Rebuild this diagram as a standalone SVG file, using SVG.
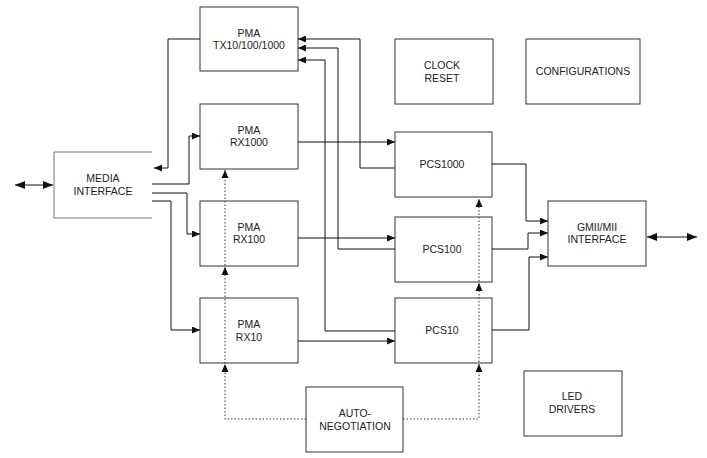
<svg xmlns="http://www.w3.org/2000/svg" width="707" height="458" viewBox="0 0 707 458">
<defs>
<marker id="ah" viewBox="0 0 10 8" refX="10" refY="4" markerWidth="10" markerHeight="8" markerUnits="userSpaceOnUse" orient="auto-start-reverse">
<path d="M0,0 L10,4 L0,8 Z" fill="#111"/>
</marker>
<marker id="ahs" viewBox="0 0 8 7" refX="8" refY="3.5" markerWidth="8" markerHeight="7" markerUnits="userSpaceOnUse" orient="auto">
<path d="M0,0 L8,3.5 L0,7 Z" fill="#111"/>
</marker>
</defs>
<style>
.box{fill:#fff;stroke:#333;stroke-width:1}
.t{font-family:"Liberation Sans",Arial,sans-serif;font-size:10.5px;fill:#222;text-anchor:middle}
.c{fill:none;stroke:#111;stroke-width:1}
.d{fill:none;stroke:#333;stroke-width:1;stroke-dasharray:1.5,2}
</style>
<rect width="707" height="458" fill="#fff"/>
<g id="pma-tx"><rect class="box" x="200" y="7" width="98" height="64"/><text class="t" x="249" y="37">PMA</text><text class="t" x="249" y="49">TX10/100/1000</text></g>
<g id="pma-rx1000"><rect class="box" x="200" y="104" width="98" height="65"/><text class="t" x="249" y="134">PMA</text><text class="t" x="249" y="146">RX1000</text></g>
<g id="pma-rx100"><rect class="box" x="200" y="201" width="98" height="65"/><text class="t" x="249" y="231">PMA</text><text class="t" x="249" y="243">RX100</text></g>
<g id="pma-rx10"><rect class="box" x="200" y="298" width="98" height="65"/><text class="t" x="249" y="328">PMA</text><text class="t" x="249" y="341">RX10</text></g>
<g id="media-interface"><path d="M152,152 L54,152 L54,218 L152,218" fill="#fff" stroke="#777" stroke-width="1"/><text class="t" x="103" y="182">MEDIA</text><text class="t" x="103" y="195">INTERFACE</text></g>
<g id="clock-reset"><rect class="box" x="395" y="39" width="98" height="65"/><text class="t" x="442" y="69">CLOCK</text><text class="t" x="442" y="82">RESET</text></g>
<g id="configurations"><rect class="box" x="526" y="39" width="114" height="65"/><text class="t" x="583" y="75">CONFIGURATIONS</text></g>
<g id="pcs1000"><rect class="box" x="395" y="132" width="97" height="65"/><text class="t" x="442" y="168">PCS1000</text></g>
<g id="pcs100"><rect class="box" x="395" y="217" width="97" height="65"/><text class="t" x="442" y="253">PCS100</text></g>
<g id="pcs10"><rect class="box" x="395" y="298" width="97" height="65"/><text class="t" x="442" y="334">PCS10</text></g>
<g id="gmii"><rect class="box" x="548" y="201" width="98" height="65"/><text class="t" x="597" y="231">GMII/MII</text><text class="t" x="597" y="243">INTERFACE</text></g>
<g id="led-drivers"><rect class="box" x="524" y="371" width="98" height="65"/><text class="t" x="572" y="400">LED</text><text class="t" x="572" y="413">DRIVERS</text></g>
<g id="auto-negotiation"><rect class="box" x="306" y="387" width="97" height="65"/><text class="t" x="355" y="417">AUTO-</text><text class="t" x="355" y="430">NEGOTIATION</text></g>
<g id="connectors">
<path class="c" d="M53,185 L15,185" marker-end="url(#ah)" marker-start="url(#ah)"/>
<path class="c" d="M200,39 L168,39 L168,168 L154,168" marker-end="url(#ahs)"/>
<path class="c" d="M152,184 L189,184 L189,136 L200,136" marker-end="url(#ahs)"/>
<path class="c" d="M152,193 L187,193 L187,234 L200,234" marker-end="url(#ahs)"/>
<path class="c" d="M152,201 L171,201 L171,330 L200,330" marker-end="url(#ahs)"/>
<path class="c" d="M298,142 L395,142" marker-end="url(#ahs)"/>
<path class="c" d="M298,238 L395,238" marker-end="url(#ahs)"/>
<path class="c" d="M298,341 L395,341" marker-end="url(#ahs)"/>
<path class="c" d="M395,168 L360,168 L360,39 L298,39" marker-end="url(#ahs)"/>
<path class="c" d="M395,249 L338,249 L338,48 L298,48" marker-end="url(#ahs)"/>
<path class="c" d="M395,331 L325,331 L325,60 L298,60" marker-end="url(#ahs)"/>
<path class="c" d="M492,164 L526,164 L526,221 L548,221" marker-end="url(#ahs)"/>
<path class="c" d="M492,249 L528,249 L528,233 L548,233" marker-end="url(#ahs)"/>
<path class="c" d="M492,330 L529,330 L529,257 L548,257" marker-end="url(#ahs)"/>
<path class="c" d="M647,237 L697,237" marker-end="url(#ah)" marker-start="url(#ah)"/>
<path class="d" d="M306,419 L225,419 L225,170"/>
<path class="d" d="M403,419 L479,419 L479,199"/>
<g fill="#111">
<path d="M225,364 L221.5,372 L228.5,372 Z"/>
<path d="M225,267 L221.5,275 L228.5,275 Z"/>
<path d="M225,170 L221.5,178 L228.5,178 Z"/>
<path d="M479,364 L475.5,372 L482.5,372 Z"/>
<path d="M479,283 L475.5,291 L482.5,291 Z"/>
<path d="M479,199 L475.5,207 L482.5,207 Z"/>
</g>
</g>
</svg>
